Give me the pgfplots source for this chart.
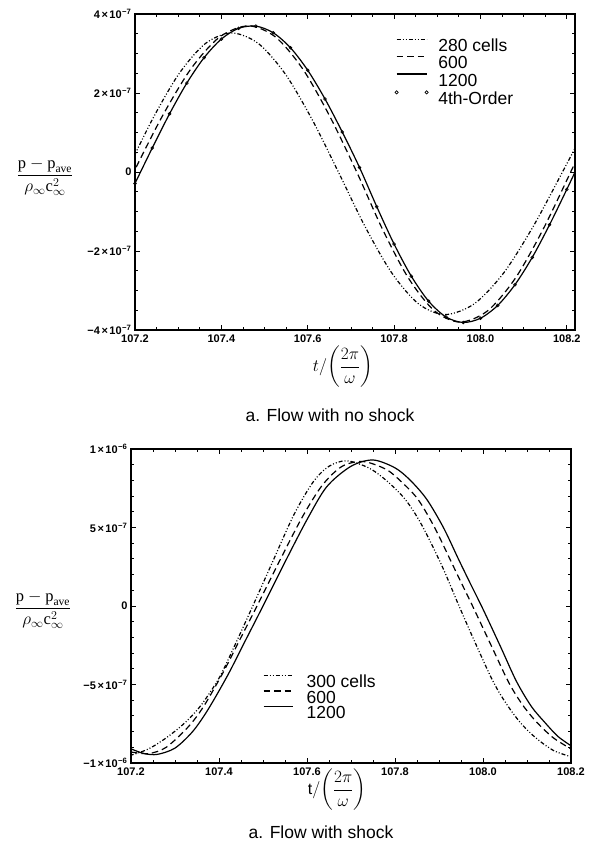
\documentclass[border=0pt]{standalone}
\usepackage{amsmath}
\usepackage{fontspec}
\setmainfont{Liberation Sans}
\newfontfamily\serif{Liberation Serif}
\usepackage{pgfplots}
\usepackage{pgfplotstable}
\pgfplotsset{compat=1.18}
\newcommand\sci[2]{#1\kern1.5pt×\kern1.5pt10\textsuperscript{\kern0.5pt#2}}

% ---------- top panel (units of 1e-7) ----------
\pgfplotstableread{
x y
107.150 -0.68
107.180 0
107.241 1.347
107.302 2.489
107.363 3.252
107.424 3.52
107.4858 3.252
107.5475 2.489
107.6093 1.347
107.671 0
107.7328 -1.382
107.7945 -2.553
107.8563 -3.335
107.918 -3.61
107.986 -3.335
108.054 -2.553
108.122 -1.382
108.190 0
108.240 1.04
}\topA
\pgfplotstableread{
x y
107.170 -0.59
107.197 0
107.2634 1.416
107.3298 2.616
107.3961 3.418
107.4625 3.70
107.5253 3.418
107.588 2.616
107.6508 1.416
107.7135 0
107.7734 -1.454
107.8333 -2.687
107.8931 -3.511
107.953 -3.80
108.017 -3.511
108.081 -2.687
108.145 -1.454
108.209 0
108.240 0.72
}\topB
\pgfplotstableread{
x y
107.18 -0.75
107.20 -0.29
107.24 0.608
107.28 1.473
107.32 2.251
107.36 2.894
107.40 3.366
107.44 3.638
107.48 3.693
107.52 3.526
107.56 3.146
107.60 2.576
107.64 1.850
107.68 1.013
107.72 0.114
107.76 -0.880
107.80 -1.824
107.84 -2.640
107.88 -3.271
107.92 -3.669
107.96 -3.810
108.00 -3.703
108.04 -3.378
108.08 -2.853
108.12 -2.162
108.16 -1.337
108.20 -0.440
108.24 0.48
}\topC
\pgfplotstableread{
x y
107.20 -0.29
107.24 0.608
107.28 1.473
107.32 2.251
107.36 2.894
107.40 3.366
107.44 3.638
107.48 3.693
107.52 3.526
107.56 3.146
107.60 2.576
107.64 1.850
107.68 1.013
107.72 0.114
107.76 -0.880
107.80 -1.824
107.84 -2.640
107.88 -3.271
107.92 -3.669
107.96 -3.810
108.00 -3.703
108.04 -3.378
108.08 -2.853
108.12 -2.162
108.16 -1.337
108.20 -0.440
}\topD

% ---------- bottom panel (units of 1e-6) ----------
\pgfplotstableread{
x y
107.17 -0.96
107.20 -0.95
107.24 -0.91
107.28 -0.84
107.32 -0.75
107.357 -0.64
107.40 -0.46
107.436 -0.25
107.48 0.02
107.52 0.27
107.57 0.58
107.614 0.79
107.65 0.89
107.69 0.925
107.74 0.88
107.78 0.80
107.823 0.68
107.86 0.52
107.906 0.26
107.944 0.01
107.98 -0.22
108.021 -0.47
108.05 -0.61
108.084 -0.74
108.12 -0.84
108.16 -0.92
108.20 -0.96
}\botA
\pgfplotstableread{
x y
107.20 -0.93
107.24 -0.94
107.28 -0.90
107.33 -0.77
107.365 -0.64
107.41 -0.42
107.45 -0.20
107.49 0.02
107.54 0.30
107.59 0.57
107.635 0.77
107.68 0.89
107.728 0.92
107.78 0.87
107.815 0.79
107.852 0.68
107.89 0.50
107.928 0.28
107.952 0.14
107.978 -0.01
108.02 -0.26
108.059 -0.49
108.09 -0.63
108.122 -0.74
108.16 -0.84
108.20 -0.91
}\botB
\pgfplotstableread{
x y
107.20 -0.91
107.23 -0.94
107.26 -0.945
107.30 -0.905
107.34 -0.80
107.375 -0.66
107.42 -0.44
107.46 -0.22
107.50 0.0
107.55 0.28
107.60 0.55
107.645 0.76
107.70 0.89
107.75 0.93
107.80 0.88
107.835 0.80
107.872 0.68
107.91 0.50
107.944 0.30
107.97 0.15
108.00 -0.02
108.04 -0.26
108.076 -0.48
108.11 -0.64
108.14 -0.74
108.17 -0.83
108.20 -0.89
}\botC

\pgfplotsset{
  panel/.style={
    scale only axis, width=440pt,
    xtick={107.2,107.4,107.6,107.8,108.0,108.2},
    xticklabels={107.2,107.4,107.6,107.8,108.0,108.2},
    minor x tick num=3,
    tick align=inside,
    major tick length=5pt, minor tick length=2.6pt,
    every tick/.style={black, line width=0.8pt},
    axis line style={line width=1.1pt},
    xticklabel style={font=\fontsize{11}{12}\selectfont\bfseries, yshift=-1pt},
    yticklabel style={font=\fontsize{11}{12}\selectfont\bfseries},
    legend cell align=left,
  },
  dd/.style={black, line width=1.2pt, smooth, dash pattern=on 4pt off 2pt on 1pt off 2pt on 1pt off 2pt},
  ds/.style={black, line width=1.2pt, smooth, dash pattern=on 6.5pt off 4pt},
  sl/.style={black, line width=1.2pt, smooth},
}

\begin{document}
\begin{tikzpicture}
\path (0pt,0pt) rectangle (587pt,852pt);

\begin{axis}[panel,
  at={(135pt,522pt)}, anchor=south west, height=316pt,
  xmin=107.2, xmax=108.219, ymin=-4, ymax=4,
  ytick={-4,-2,0,2,4},
  yticklabels={\sci{−4}{−7},\sci{−2}{−7},0,\sci{2}{−7},\sci{4}{−7}},
  minor y tick num=3,
  legend image code/.code={\draw[#1] (0pt,6pt) -- (30pt,6pt); \path[draw=none] (0pt,0pt) -- (41.7pt,0pt);},
  legend style={at={(0.591,0.922)}, anchor=north west, draw=none, fill=none,
    inner sep=0pt, outer sep=0pt, row sep=4.5pt,
    font=\fontsize{17.5}{18}\selectfont,
    nodes={inner sep=0pt, text height=12.5pt, text depth=0pt}},
]
\addplot[dd] table {\topA};
\addlegendentry{280 cells}
\addplot[ds] table {\topB};
\addlegendentry{600}
\addplot[sl] table {\topC};
\addlegendentry{1200}
\addplot[black, only marks, mark=o, mark size=1.4pt, mark options={line width=0.7pt},
  legend image code/.code={\draw[black, mark=o, mark size=1.6pt, line width=0.7pt] plot[only marks] coordinates {(0pt,6pt) (30pt,6pt)}; \path[draw=none] (0pt,0pt) -- (41.7pt,0pt);}] table {\topD};
\addlegendentry{4th-Order}
\end{axis}

\node at (45pt,675pt) {\fontsize{16.5}{18}\selectfont $\dfrac{\text{\serif p} - \text{\serif p}_{\text{\serif ave}}}{\rho_{\infty}\text{\serif c}_{\infty}^{2}}$};
\node at (343pt,485pt) {\fontsize{16}{18}\selectfont $t/\!\left(\dfrac{2\pi}{\omega}\right)$};
\node at (330pt,437pt) {\fontsize{17.5}{20}\selectfont a. Flow with no shock};

\begin{axis}[panel,
  at={(131pt,89pt)}, anchor=south west, height=314pt,
  xmin=107.2, xmax=108.2, ymin=-1, ymax=1,
  ytick={-1,-0.5,0,0.5,1},
  yticklabels={\sci{−1}{−6},\sci{−5}{−7},0,\sci{5}{−7},\sci{1}{−6}},
  minor y tick num=4,
  legend image code/.code={\draw[#1] (0pt,6pt) -- (29pt,6pt); \path[draw=none] (0pt,0pt) -- (43pt,0pt);},
  legend style={at={(0.30,0.280)}, anchor=north west, draw=none, fill=none,
    inner sep=0pt, outer sep=0pt, row sep=2.5pt,
    font=\fontsize{17.5}{18}\selectfont,
    nodes={inner sep=0pt, text height=12.5pt, text depth=0pt}},
]
\addplot[dd] table {\botA};
\addlegendentry{300 cells}
\addplot[ds] table {\botB};
\addlegendentry{600}
\addplot[sl] table {\botC};
\addlegendentry{1200}
\end{axis}

\node at (43pt,242pt) {\fontsize{16.5}{18}\selectfont $\dfrac{\text{\serif p} - \text{\serif p}_{\text{\serif ave}}}{\rho_{\infty}\text{\serif c}_{\infty}^{2}}$};
\node at (337pt,62pt) {\fontsize{16}{18}\selectfont $\mathrm{t}/\!\left(\dfrac{2\pi}{\omega}\right)$};
\node at (321pt,20pt) {\fontsize{17.5}{20}\selectfont a. Flow with shock};
\end{tikzpicture}
\end{document}
